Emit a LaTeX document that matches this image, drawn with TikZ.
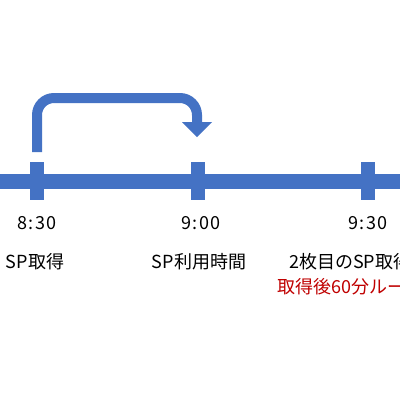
\documentclass[tikz,border=0pt]{standalone}
\usepackage{fontspec}
\setmainfont{Noto Sans CJK JP}
\definecolor{obl}{RGB}{68,114,196}
\definecolor{ored}{RGB}{192,0,0}
\tikzset{
  tickbox/.style={fill=obl, draw=none, minimum width=14pt, minimum height=38pt, inner sep=0pt},
  lbl/.style={font=\fontsize{18}{21}\selectfont, inner sep=0pt, anchor=center},
  timelbl/.style={lbl, font=\fontsize{18}{21}\selectfont\addfontfeatures{LetterSpace=9}},
}
\begin{document}
\begin{tikzpicture}[x=1pt,y=-1pt]
\useasboundingbox (0,0) rectangle (400,400);
\clip (0,0) rectangle (400,400);
\fill[white] (0,0) rectangle (400,400);
% timeline bar
\fill[obl] (0,174) rectangle (400,189);
\node[tickbox] (t1) at (37,181) {};
\node[tickbox] (t2) at (197.5,181) {};
\node[tickbox] (t3) at (367.5,181) {};
% arrow
\coordinate (a0) at (37,152);
\coordinate (a1) at (37,98);
\coordinate (a2) at (197,98);
\coordinate (a3) at (197,124);
\draw[obl, line width=10pt, rounded corners=17pt] (a0) -- (a1) -- (a2) -- (a3);
\fill[obl] (182,122) -- (212,122) -- (197,137) -- cycle;
% labels
\node[timelbl] (l1) at (37,223) {8:30};
\node[timelbl] (l2) at (201,223) {9:00};
\node[timelbl] (l3) at (368,223) {9:30};
\node[lbl] (s1) at (35,262) {SP取得};
\node[lbl] (s2) at (199,262) {SP利用時間};
\node[lbl, anchor=west] (s3) at (289,262) {2枚目のSP取得};
\node[lbl, anchor=west, text=ored] (s4) at (277,287) {取得後60分ルール};
\end{tikzpicture}
\end{document}
